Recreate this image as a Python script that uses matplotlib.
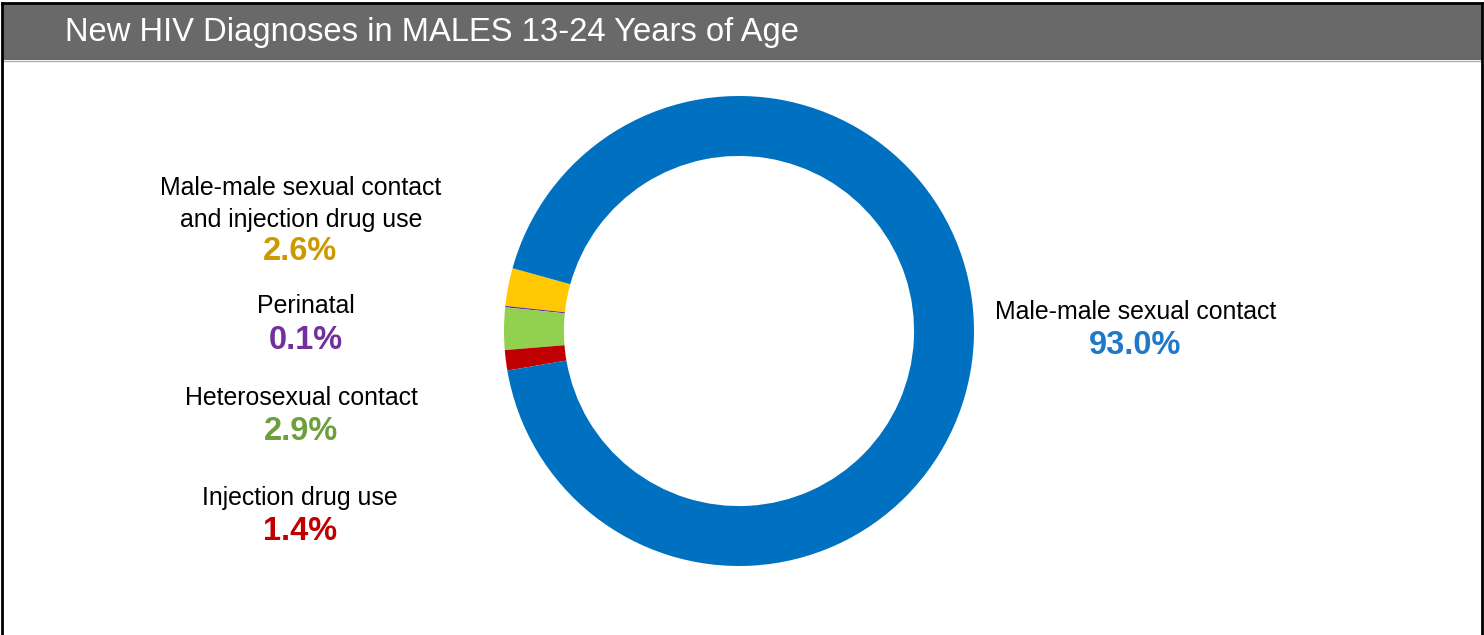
import matplotlib.pyplot as plt
from matplotlib.patches import Rectangle
from matplotlib.lines import Line2D

# data (order = counterclockwise from the top of the small wedges)
categories = ['Male-male sexual contact\nand injection drug use', 'Perinatal',
              'Heterosexual contact', 'Injection drug use', 'Male-male sexual contact']
values = [2.6, 0.1, 2.9, 1.4, 93.0]
wedge_colors = ['#FFC800', '#7030A0', '#92D050', '#C00000', '#0070C0']
pct_colors = ['#CC9900', '#7030A0', '#6DA03C', '#C00000', '#1F78C8']
title = 'New HIV Diagnoses in MALES 13-24 Years of Age'

W, H = 1484, 635
plt.rcParams['font.family'] = ['Liberation Sans', 'DejaVu Sans']
fig = plt.figure(figsize=(W / 100, H / 100), dpi=100)
fig.patch.set_facecolor('white')


def fx(px):
    return px / W


def fy(py):
    return 1 - py / H


# title bar and frame
fig.patches.append(Rectangle((fx(2), fy(60)), fx(1480), (56) / H, transform=fig.transFigure,
                             facecolor='#696969', edgecolor='none'))
fig.lines.append(Line2D([fx(2), fx(1481)], [fy(60.5), fy(60.5)], transform=fig.transFigure,
                        color='#b0b0b0', lw=1))
fig.lines.append(Line2D([fx(2), fx(2)], [fy(3), 0], transform=fig.transFigure, color='black', lw=2))
fig.lines.append(Line2D([fx(1481.5), fx(1481.5)], [fy(3), 0], transform=fig.transFigure, color='black', lw=2))
fig.lines.append(Line2D([fx(2), fx(1481.5)], [fy(3), fy(3)], transform=fig.transFigure, color='black', lw=2))
fig.text(fx(65), fy(32), title, color='white', fontsize=23.6, ha='left', va='center')

# donut
cx, cy, r = 739, 331, 235
ax = fig.add_axes([fx(cx - r), fy(cy + r), 2 * r / W, 2 * r / H])
ax.pie(values, colors=wedge_colors, startangle=164.5, counterclock=True,
       wedgeprops=dict(width=0.255, edgecolor='none'))
ax.set_xlim(-1, 1)
ax.set_ylim(-1, 1)
ax.set_aspect('equal')
ax.axis('off')

# labels
label_pos = [(301, 204), (306, 306), (301, 398), (300, 498), (1136, 312)]
pct_pos = [(300, 251), (306, 340), (301, 432), (300, 531), (1135, 346)]
for cat, val, pc, (lx, ly), (px, py) in zip(categories, values, pct_colors, label_pos, pct_pos):
    fig.text(fx(lx), fy(ly), cat, fontsize=17.9, color='black', ha='center', va='center',
             linespacing=1.45)
    fig.text(fx(px), fy(py), f'{val:.1f}%', fontsize=23.5, fontweight='bold', color=pc,
             ha='center', va='center')

fig.savefig('out.png', dpi=100)
